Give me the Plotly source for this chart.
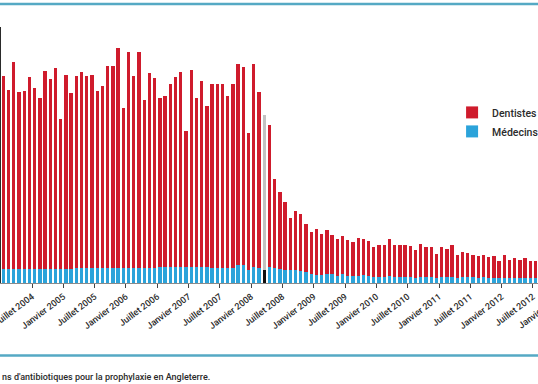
import plotly.graph_objects as go

# ---------------- data (monthly prescriptions, Jan 2004 - Jul 2012) ----------------
dentistes = [
    10550, 9790, 11320, 9680, 9730, 10500, 9890, 9350, 10800, 10370, 10970, 8180,   # 2004
    10590, 9600, 10480, 10700, 10480, 10540, 9660, 9930, 11050, 11050, 12030, 8750,  # 2005
    11810, 10500, 11810, 9190, 10660, 10390, 9240, 9350, 10000, 10390, 10660, 7430,  # 2006
    10800, 9270, 10200, 8830, 10060, 10060, 10060, 9410, 10060, 11000, 10830, 7490,  # 2007
    11090, 9610, 8480, 7780, 4890, 4230, 3720, 2830, 3250, 3110, 2640, 2280,         # 2008
    2510, 2240, 2390, 2150, 2010, 2090, 1950, 1840, 2090, 1970, 1900, 1630,          # 2009
    1730, 1730, 2050, 1740, 1730, 1750, 1680, 1510, 1780, 1630, 1640, 1290,          # 2010
    1630, 1530, 1730, 1230, 1380, 1320, 1220, 1180, 1220, 1130, 1180, 940,           # 2011
    1230, 990, 1080, 980, 1080, 930, 930,                                            # 2012
]
medecins = [
    770, 770, 770, 770, 770, 770, 770, 770, 790, 790, 790, 790,   # 2004
    790, 790, 840, 840, 840, 840, 840, 840, 820, 820, 820, 820,   # 2005
    820, 820, 820, 820, 820, 820, 880, 880, 880, 880, 880, 880,   # 2006
    850, 850, 850, 850, 820, 820, 820, 820, 820, 980, 980, 710,   # 2007
    890, 840, 710, 860, 800, 750, 710, 730, 690, 660, 590, 510,   # 2008
    440, 440, 510, 480, 400, 480, 400, 400, 370, 440, 400, 340,   # 2009
    350, 350, 360, 340, 350, 330, 340, 300, 350, 340, 330, 300,   # 2010
    340, 330, 350, 300, 320, 320, 310, 300, 310, 290, 300, 260,   # 2011
    300, 270, 290, 280, 290, 270, 270,                            # 2012
]
start_year = 2004
months = [f"{start_year + i // 12}-{i % 12 + 1:02d}" for i in range(len(dentistes))]
highlight_month = "2008-03"   # recommandation NICE

tick_labels = [
    "Janvier 2004", "Juillet 2004", "Janvier 2005", "Juillet 2005",
    "Janvier 2006", "Juillet 2006", "Janvier 2007", "Juillet 2007",
    "Janvier 2008", "Juillet 2008", "Janvier 2009", "Juillet 2009",
    "Janvier 2010", "Juillet 2010", "Janvier 2011", "Juillet 2011",
    "Janvier 2012", "Juillet 2012",
]
next_tick_label = "Janvier 2013"
caption = "ns d'antibiotiques pour la prophylaxie en Angleterre."

# ---------------- styling ----------------
RED = "#cf1b2c"
BLUE = "#2ba3da"
GREY = "#c2c2c2"
BLACK = "#111111"
RULE = "#55a9c4"
TXT = "#2b2b2b"
FONT = "Roboto"

x_pos = [i + 0.5 for i in range(len(months))]
tick_vals = [6 * k for k in range(len(tick_labels))]
x_range = [0.0575, 102.96]

med_colors = [BLACK if m == highlight_month else BLUE for m in months]
dent_colors = [GREY if m == highlight_month else RED for m in months]

fig = go.Figure()
fig.add_trace(go.Bar(
    x=x_pos, y=medecins, name="Médecins", customdata=months,
    marker=dict(color=med_colors, line=dict(width=0)), width=0.64,
    hovertemplate="%{customdata}<br>Médecins : %{y}<extra></extra>",
))
fig.add_trace(go.Bar(
    x=x_pos, y=dentistes, name="Dentistes", customdata=months,
    marker=dict(color=dent_colors, line=dict(width=0)), width=0.64,
    hovertemplate="%{customdata}<br>Dentistes : %{y}<extra></extra>",
))

fig.update_layout(
    template="none",
    width=538, height=384, autosize=False,
    margin=dict(l=1, r=0, t=27, b=101, autoexpand=False),
    barmode="stack",
    paper_bgcolor="white", plot_bgcolor="white",
    font=dict(family=FONT, color=TXT, size=9, weight=500),
    showlegend=True,
    legend=dict(
        x=0.840, xanchor="left", y=0.723, yanchor="top",
        bgcolor="rgba(0,0,0,0)", borderwidth=0,
        font=dict(family=FONT, size=10.5, color=TXT, weight=500),
        traceorder="reversed",
    ),
    xaxis=dict(
        range=x_range, tickmode="array", tickvals=tick_vals, ticktext=tick_labels,
        tickangle=-37, ticks="outside", ticklen=4, tickwidth=1, tickcolor="#444",
        showline=True, linecolor="#8a8a8a", linewidth=1,
        showgrid=False, zeroline=False, automargin=False,
        ticklabeloverflow="allow",
        tickfont=dict(family=FONT, size=9, color=TXT, weight=500),
    ),
    yaxis=dict(
        range=[0, 14000], showticklabels=False, ticks="",
        showline=True, linecolor="#2a2a2a", linewidth=2,
        showgrid=False, zeroline=False, automargin=False,
    ),
    shapes=[
        dict(type="line", xref="paper", yref="paper", x0=-0.01, x1=1, y0=1.09, y1=1.09,
             line=dict(color=RULE, width=2.5), layer="above"),
        dict(type="line", xref="paper", yref="paper", x0=-0.01, x1=1, y0=-0.283, y1=-0.283,
             line=dict(color=RULE, width=2.5), layer="above"),
    ],
    annotations=[
        dict(text=caption, xref="paper", yref="paper", x=-0.002, y=-0.366,
             xanchor="left", yanchor="middle", showarrow=False,
             font=dict(family=FONT, size=9, color=TXT, weight=500)),
        dict(text=next_tick_label, xref="paper", yref="paper",
             x=(6 * len(tick_labels) - x_range[0]) / (x_range[1] - x_range[0]) + 0.004,
             y=-0.02, xanchor="right", yanchor="top", textangle=-37, showarrow=False,
             font=dict(family=FONT, size=9, color=TXT, weight=500)),
    ],
)

post = (
    "document.documentElement.style.overflow='hidden';"
    "document.documentElement.style.margin='0';"
    "document.body.style.margin='0';"
    "document.body.style.padding='0';"
    "document.body.style.overflow='hidden';"
)

fig.write_html(
    "out.html",
    config={"displayModeBar": False, "responsive": False},
    post_script=post,
)
